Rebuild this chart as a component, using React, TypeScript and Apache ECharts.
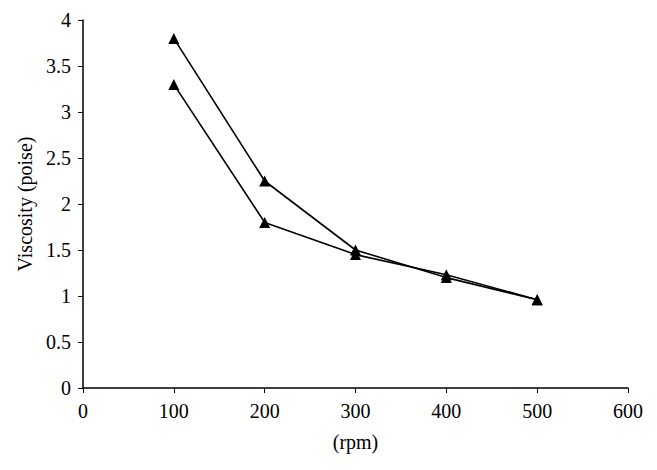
import React, { useEffect, useRef } from "react";
import * as echarts from "echarts";

const rpm = [100, 200, 300, 400, 500];
const seriesA = [3.8, 2.25, 1.5, 1.2, 0.96];
const seriesB = [3.3, 1.8, 1.45, 1.23, 0.96];
const xAxisName = "(rpm)";
const yAxisName = "Viscosity (poise)";

export default function App() {
  const ref = useRef<HTMLDivElement>(null);
  useEffect(() => {
    if (!ref.current) return;
    const chart = echarts.init(ref.current, undefined, { renderer: "svg" });
    const font = "'Liberation Serif', 'Times New Roman', Times, serif";
    const mk = (vals: number[], name: string) => ({
      type: "line",
      name,
      data: rpm.map((x, i) => [x, vals[i]]),
      symbol: "triangle",
      symbolSize: 11,
      itemStyle: { color: "#000" },
      lineStyle: { color: "#000", width: 1.6 },
    });
    chart.setOption({
      animation: false,
      backgroundColor: "#fff",
      grid: { left: 83, right: 29, top: 20, bottom: 82 },
      xAxis: {
        type: "value",
        min: 0,
        max: 600,
        interval: 100,
        name: xAxisName,
        nameLocation: "middle",
        nameGap: 44,
        nameTextStyle: { fontFamily: font, fontSize: 20, color: "#000" },
        axisLine: { lineStyle: { color: "#000", width: 1.5 } },
        axisTick: { show: true, length: 5, lineStyle: { color: "#000" } },
        axisLabel: { fontFamily: font, fontSize: 20, color: "#000", margin: 13 },
        splitLine: { show: false },
      },
      yAxis: {
        type: "value",
        min: 0,
        max: 4,
        interval: 0.5,
        name: yAxisName,
        nameLocation: "middle",
        nameGap: 46,
        nameTextStyle: { fontFamily: font, fontSize: 20, color: "#000" },
        axisLine: { show: true, lineStyle: { color: "#000", width: 1.5 } },
        axisTick: { show: true, length: 5, lineStyle: { color: "#000" } },
        axisLabel: { fontFamily: font, fontSize: 20, color: "#000", margin: 12 },
        splitLine: { show: false },
      },
      series: [mk(seriesA, "A"), mk(seriesB, "B")],
    });
    return () => chart.dispose();
  }, []);
  return <div ref={ref} style={{ width: 657, height: 470, position: "absolute", left: 0, top: 0 }} />;
}
